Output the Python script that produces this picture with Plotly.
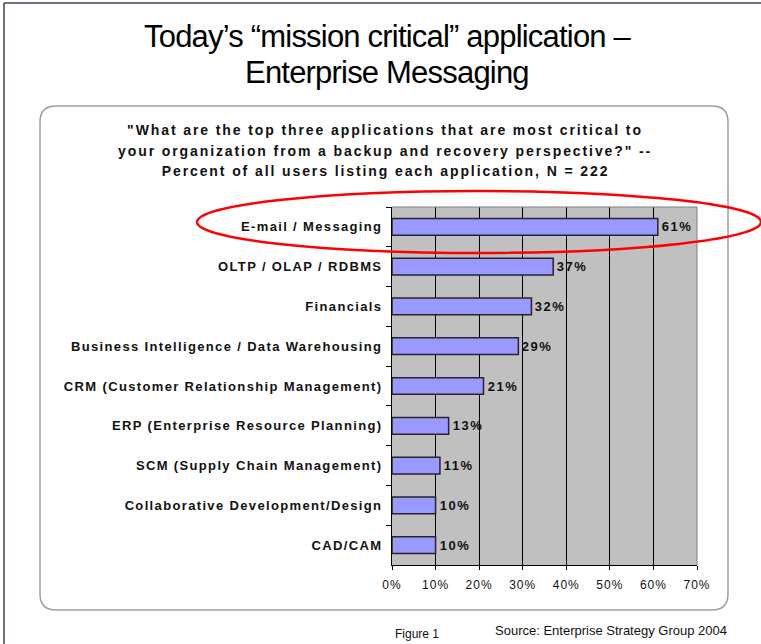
import plotly.graph_objects as go

W, H = 761, 644

categories = [
    "E-mail / Messaging",
    "OLTP / OLAP / RDBMS",
    "Financials",
    "Business Intelligence / Data Warehousing",
    "CRM (Customer Relationship Management)",
    "ERP (Enterprise Resource Planning)",
    "SCM (Supply Chain Management)",
    "Collaborative Development/Design",
    "CAD/CAM",
]
values = [61, 37, 32, 29, 21, 13, 11, 10, 10]
x_ticks = [0, 10, 20, 30, 40, 50, 60, 70]
x_tick_labels = ["0%", "10%", "20%", "30%", "40%", "50%", "60%", "70%"]

title_lines = ["Today\u2019s \u201cmission critical\u201d application \u2013", "Enterprise Messaging"]
subtitle_lines = [
    "\"What are the top three applications that are most critical to",
    "your organization from a backup and recovery perspective?\" --",
    "Percent of all users listing each application, N = 222",
]
figure_note = "Figure 1"
source_note = "Source: Enterprise Strategy Group 2004"


def px(x):
    return x / W


def py(y):
    return 1 - y / H


SANS = "Liberation Sans, Arial, sans-serif"

fig = go.Figure()
fig.add_trace(go.Bar(
    y=categories,
    x=values,
    orientation="h",
    marker=dict(color="#9999ff", line=dict(color="#262626", width=1.5)),
    width=0.42,
    hoverinfo="skip",
))

fig.update_layout(
    template="none",
    width=W, height=H,
    autosize=False,
    margin=dict(l=0, r=0, t=0, b=0, pad=0, autoexpand=False),
    paper_bgcolor="white",
    plot_bgcolor="#c0c0c0",
    showlegend=False,
    xaxis=dict(
        domain=[px(392), px(697)],
        range=[0, 70],
        tickvals=x_ticks,
        ticktext=x_tick_labels,
        showgrid=True, gridcolor="#000000", gridwidth=1,
        showline=True, linecolor="#000000", linewidth=1,
        ticks="outside", ticklen=4, tickcolor="#000000",
        ticklabelstandoff=5,
        tickfont=dict(family=SANS, size=12, color="#111111"),
        zeroline=False,
        automargin=False,
        fixedrange=True,
    ),
    yaxis=dict(
        domain=[py(565), py(207)],
        categoryorder="array",
        categoryarray=categories,
        autorange="reversed",
        showline=True, linecolor="#000000", linewidth=1,
        ticks="outside", ticklen=5, tickcolor="#000000",
        tickson="boundaries",
        ticklabelstandoff=6,
        tickfont=dict(family=SANS, size=13, color="#111111", weight="bold"),
        showgrid=False,
        zeroline=False,
        automargin=False,
        fixedrange=True,
    ),
)

shapes = []
# outer page border (top and left)
shapes.append(dict(type="line", xref="paper", yref="paper", x0=px(4), x1=px(761), y0=py(3), y1=py(3),
                   line=dict(color="#3a4556", width=1.5)))
shapes.append(dict(type="line", xref="paper", yref="paper", x0=px(4), x1=px(4), y0=py(3), y1=py(644),
                   line=dict(color="#3a4556", width=1.5)))
# rounded panel
x0, x1, y0, y1, r = 40, 728, 106, 610, 16
path = (
    f"M {px(x0 + r)},{py(y0)} L {px(x1 - r)},{py(y0)} "
    f"Q {px(x1)},{py(y0)} {px(x1)},{py(y0 + r)} "
    f"L {px(x1)},{py(y1 - r)} Q {px(x1)},{py(y1)} {px(x1 - r)},{py(y1)} "
    f"L {px(x0 + r)},{py(y1)} Q {px(x0)},{py(y1)} {px(x0)},{py(y1 - r)} "
    f"L {px(x0)},{py(y0 + r)} Q {px(x0)},{py(y0)} {px(x0 + r)},{py(y0)} Z"
)
shapes.append(dict(type="path", xref="paper", yref="paper", path=path,
                   line=dict(color="#a0a0a0", width=1.5), layer="below"))
# plot area top and right gray border
shapes.append(dict(type="line", xref="x domain", yref="y domain", x0=0, x1=1, y0=1, y1=1,
                   line=dict(color="#808080", width=1)))
shapes.append(dict(type="line", xref="x domain", yref="y domain", x0=1, x1=1, y0=0, y1=1,
                   line=dict(color="#808080", width=1)))
# red highlight ellipse
shapes.append(dict(type="circle", xref="paper", yref="paper",
                   x0=px(197), x1=px(761), y0=py(191), y1=py(253),
                   line=dict(color="#ff0000", width=2.5)))
fig.update_layout(shapes=shapes)

ann = []
for i, t in enumerate(title_lines):
    ann.append(dict(text=t, x=px(387), y=py([37, 73][i]), xref="paper", yref="paper",
                    xanchor="center", yanchor="middle", showarrow=False,
                    font=dict(family=SANS, size=31, color="#000000")))
for i, t in enumerate(subtitle_lines):
    ann.append(dict(text=t, x=px(385), y=py([130, 151, 171][i]), xref="paper", yref="paper",
                    xanchor="center", yanchor="middle", showarrow=False,
                    font=dict(family=SANS, size=14, color="#111111", weight="bold")))
ann.append(dict(text=figure_note, x=px(417), y=py(634), xref="paper", yref="paper",
                xanchor="center", yanchor="middle", showarrow=False,
                font=dict(family=SANS, size=12, color="#111111")))
ann.append(dict(text=source_note, x=px(611), y=py(630), xref="paper", yref="paper",
                xanchor="center", yanchor="middle", showarrow=False,
                font=dict(family=SANS, size=13, color="#111111")))
value_start = len(ann)
for c, v in zip(categories, values):
    ann.append(dict(text=f"{v}%", x=v, y=c, xref="x", yref="y",
                    xanchor="left", yanchor="middle", xshift=4, showarrow=False,
                    font=dict(family=SANS, size=13, color="#111111", weight="bold")))
fig.update_layout(annotations=ann)

# letter spacing to mimic the original's spaced bold text and narrow title face
value_sel = ",".join(f"g.annotation[data-index='{i}'] text" for i in range(value_start, len(ann)))
css = (
    ".ytick text{letter-spacing:1.35px}"
    ".xtick text{letter-spacing:1px}"
    "g.annotation[data-index='0'] text, g.annotation[data-index='1'] text{letter-spacing:-0.8px}"
    "g.annotation[data-index='2'] text, g.annotation[data-index='3'] text,"
    "g.annotation[data-index='4'] text{letter-spacing:1.9px}"
    + value_sel + "{letter-spacing:1.5px}"
)
post = (
    "var st=document.createElement('style');"
    f"st.textContent=\"{css}\";"
    "document.head.appendChild(st);"
    "var gd=document.getElementById('{plot_id}');"
    "Plotly.newPlot(gd, gd.data, gd.layout, {displayModeBar:false});"
)

fig.write_html("out.html", post_script=post, config={"displayModeBar": False})
